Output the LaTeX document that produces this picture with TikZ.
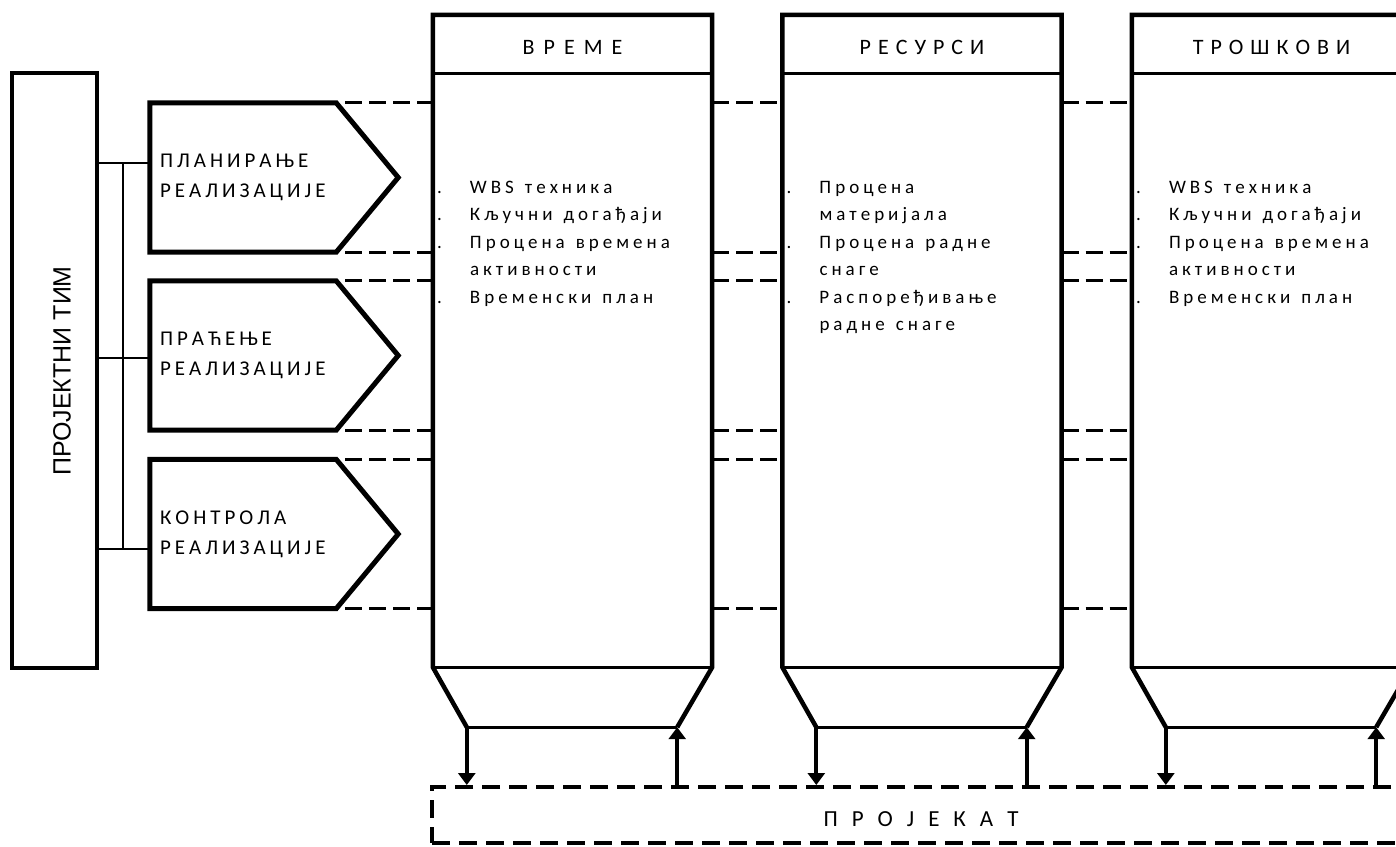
\documentclass[tikz,border=0pt]{standalone}
\usepackage{fontspec}
\setmainfont{Carlito}
\newfontfamily\tmfont{Liberation Sans}
\usetikzlibrary{arrows.meta,calc}
\newcommand{\trk}[1]{\XeTeXinterchartokenstate=1\relax\XeTeXinterchartoks 0 0 = {\kern#1\relax}}
\newcommand{\wsp}[1]{\spaceskip=#1\relax}
\newcommand{\pentfont}{\fontsize{21}{30}\selectfont\trk{4pt}}
\newcommand{\headfont}{\fontsize{22}{26}\selectfont\trk{7pt}}
\newcommand{\bodyfont}{\fontsize{19}{27.5}\selectfont\trk{4pt}}
\newcommand{\projfont}{\fontsize{23}{26}\selectfont\wsp{14pt}}
\newcommand{\bul}{\makebox[33pt][l]{.}}
\newcommand{\nob}{\hspace*{33pt}}

\begin{document}
\begin{tikzpicture}[x=1pt,y=-1pt]
	\tikzstyle{every node}=[scale=1.0000,inner sep=0pt]
	
	\definecolor{ink}{RGB}{0,0,0}
	\tikzstyle{teambox}=[draw=ink,line width=4pt,minimum width=85pt,minimum height=595pt]
	\tikzstyle{pentbody}=[minimum width=186pt,minimum height=149pt,text width=166pt,align=left,font=\pentfont]
	\tikzstyle{pentline}=[draw=ink,line width=5pt,line join=miter]
	\tikzstyle{colbody}=[minimum width=279pt,minimum height=594pt]
	\tikzstyle{colhead}=[minimum width=279pt,minimum height=58pt,text height=21pt,text depth=0pt,font=\headfont]
	\tikzstyle{colline}=[draw=ink,line width=4.5pt,line join=miter]
	\tikzstyle{midline}=[draw=ink,line width=3pt]
	\tikzstyle{thinline}=[draw=ink,line width=1.8pt]
	\tikzstyle{linkdash}=[draw=ink,line width=3pt,dash pattern=on 17pt off 7pt]
	\tikzstyle{itemtxt}=[anchor=north west,text width=270pt,align=left,font=\bodyfont,execute at begin node={\wsp{11pt}}]
	\tikzstyle{projbox}=[draw=ink,line width=4pt,dash pattern=on 18pt off 9pt,minimum width=978pt,minimum height=56pt,text height=22pt,text depth=0pt,font=\projfont]
	\tikzstyle{flow}=[draw=ink,line width=4pt,-{Triangle[width=17pt,length=12pt]}]
	
	\useasboundingbox (0,0) rectangle (1396,846);
	\clip (0,0) rectangle (1396,846);
	
	%% project team
	\node [teambox] (team) at (54.5,370.5) {};
	\node [rotate=90,font=\tmfont\fontsize{25}{30}\selectfont] (teamlbl) at (62,371) {ПРОЈЕКТНИ ТИМ};
	
	%% phases
	\node [pentbody] (plan) at (243.0000,177.5000) {ПЛАНИРАЊЕ\\РЕАЛИЗАЦИЈЕ};
	\node [pentbody] (track) at (243.0000,355.5000) {ПРАЋЕЊЕ\\РЕАЛИЗАЦИЈЕ};
	\node [pentbody] (ctrl) at (243.0000,534.0000) {КОНТРОЛА\\РЕАЛИЗАЦИЈЕ};
	\draw [pentline] (plan.north west) -- (plan.north east) -- ($(plan.east)+(62,0)$) -- (plan.south east) -- (plan.south west) -- cycle;
	\draw [pentline] (track.north west) -- (track.north east) -- ($(track.east)+(62,0)$) -- (track.south east) -- (track.south west) -- cycle;
	\draw [pentline] (ctrl.north west) -- (ctrl.north east) -- ($(ctrl.east)+(62,0)$) -- (ctrl.south east) -- (ctrl.south west) -- cycle;
	
	%% team to phases
	\coordinate (j1) at (123.0000,163.0000);
	\coordinate (j2) at (123.0000,358.0000);
	\coordinate (j3) at (123.0000,549.0000);
	\draw [thinline] (team.east |- j1) -- (plan.west |- j1);
	\draw [thinline] (team.east |- j2) -- (track.west |- j2);
	\draw [thinline] (team.east |- j3) -- (ctrl.west |- j3);
	\draw [thinline] (j1) -- (j3);
	
	%% columns
	\node [colhead] (timehd) at (572.5000,44.0000) {\trk{9pt}ВРЕМЕ};
	\node [colbody] (time) at (572.5000,370.0000) {};
	\node [colhead] (reshd) at (922.0000,44.0000) {РЕСУРСИ};
	\node [colbody] (res) at (922.0000,370.0000) {};
	\node [colhead] (costhd) at (1271.5000,44.0000) {\trk{7pt}ТРОШКОВИ};
	\node [colbody] (cost) at (1271.5000,370.0000) {};
	
	\draw [colline] ($(time.south west)+(34,60)$) coordinate (timel) -- (time.south west) -- (timehd.north west) -- (timehd.north east) -- (time.south east) -- ($(time.south east)+(-35,60)$) coordinate (timer);
	\draw [midline] (timehd.south west) -- (timehd.south east);
	\draw [midline] (time.south west) -- (time.south east);
	\draw [midline] (timel) -- (timer);
	
	\draw [colline] ($(res.south west)+(34,60)$) coordinate (resl) -- (res.south west) -- (reshd.north west) -- (reshd.north east) -- (res.south east) -- ($(res.south east)+(-35,60)$) coordinate (resr);
	\draw [midline] (reshd.south west) -- (reshd.south east);
	\draw [midline] (res.south west) -- (res.south east);
	\draw [midline] (resl) -- (resr);
	
	\draw [colline] ($(cost.south west)+(34,60)$) coordinate (costl) -- (cost.south west) -- (costhd.north west) -- (costhd.north east) -- (cost.south east) -- ($(cost.south east)+(-35,60)$) coordinate (costr);
	\draw [midline] (costhd.south west) -- (costhd.south east);
	\draw [midline] (cost.south west) -- (cost.south east);
	\draw [midline] (costl) -- (costr);
	
	%% column texts
	\node [itemtxt] (timelist) at ($(time.north west)+(4,108)$) {\bul WBS техника\\\bul Кључни догађаји\\\bul Процена времена\\\nob активности\\\bul Временски план};
	\node [itemtxt] (reslist) at ($(res.north west)+(4,108)$) {\bul Процена\\\nob материјала\\\bul Процена радне\\\nob снаге\\\bul Распоређивање\\\nob радне снаге};
	\node [itemtxt] (costlist) at ($(cost.north west)+(4,108)$) {\bul WBS техника\\\bul Кључни догађаји\\\bul Процена времена\\\nob активности\\\bul Временски план};
	
	%% dashed links
	\draw [linkdash] ($(plan.north east)+(9,0)$) -- (time.west |- plan.north) (time.east |- plan.north) -- (res.west |- plan.north) (res.east |- plan.north) -- (cost.west |- plan.north);
	\draw [linkdash] ($(plan.south east)+(9,0)$) -- (time.west |- plan.south) (time.east |- plan.south) -- (res.west |- plan.south) (res.east |- plan.south) -- (cost.west |- plan.south);
	\draw [linkdash] ($(track.north east)+(9,0)$) -- (time.west |- track.north) (time.east |- track.north) -- (res.west |- track.north) (res.east |- track.north) -- (cost.west |- track.north);
	\draw [linkdash] ($(track.south east)+(9,0)$) -- (time.west |- track.south) (time.east |- track.south) -- (res.west |- track.south) (res.east |- track.south) -- (cost.west |- track.south);
	\draw [linkdash] ($(ctrl.north east)+(9,0)$) -- (time.west |- ctrl.north) (time.east |- ctrl.north) -- (res.west |- ctrl.north) (res.east |- ctrl.north) -- (cost.west |- ctrl.north);
	\draw [linkdash] ($(ctrl.south east)+(9,0)$) -- (time.west |- ctrl.south) (time.east |- ctrl.south) -- (res.west |- ctrl.south) (res.east |- ctrl.south) -- (cost.west |- ctrl.south);
	
	%% project
	\node [projbox] (proj) at (921.0000,815.0000) {П Р О Ј Е К А Т};
	\draw [flow] (timel) -- (timel |- proj.north);
	\draw [flow] (timer |- proj.north) -- (timer);
	\draw [flow] (resl) -- (resl |- proj.north);
	\draw [flow] (resr |- proj.north) -- (resr);
	\draw [flow] (costl) -- (costl |- proj.north);
	\draw [flow] (costr |- proj.north) -- (costr);

\end{tikzpicture}
\end{document}
